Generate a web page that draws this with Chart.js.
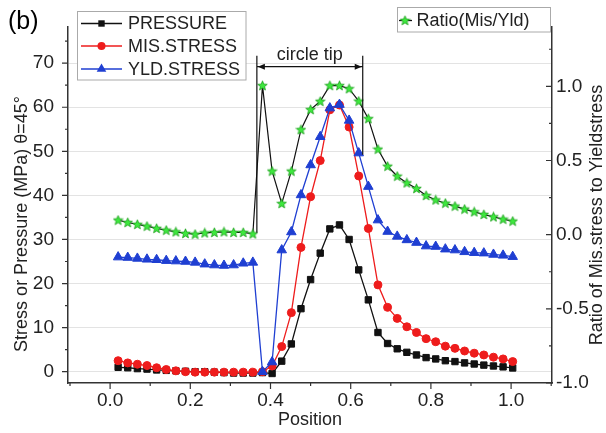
<!DOCTYPE html>
<html>
<head>
<meta charset="utf-8">
<script src="https://cdn.jsdelivr.net/npm/chart.js@4.4.1/dist/chart.umd.min.js"></script>
<style>
    body { margin: 0; background: #fff; }
    #wrap { width: 606px; height: 433px; }
</style>
</head>
<body>
<div id="wrap"><canvas id="stressChart" width="606" height="433"></canvas></div>
<script>
// position along the tip (x)
let position = [
    0.020, 0.044, 0.068, 0.092, 0.116, 0.140, 0.164, 0.188, 0.212, 0.236,
    0.260, 0.284, 0.308, 0.332, 0.356, 0.380, 0.404, 0.428, 0.452, 0.476,
    0.500, 0.524, 0.548, 0.572, 0.596, 0.620, 0.644, 0.668, 0.692, 0.716,
    0.740, 0.764, 0.788, 0.812, 0.836, 0.860, 0.884, 0.908, 0.932, 0.956,
    0.980, 1.004
];

let pressure = [
    1.0, 0.9, 0.7, 0.6, 0.4, 0.3, 0.2, 0.1, 0.0, 0.0,
    -0.1, -0.2, -0.3, -0.3, -0.3, -0.2, -0.4, 2.4, 6.3, 14.3,
    20.9, 26.9, 32.4, 33.3, 30.0, 23.1, 16.3, 8.9, 6.4, 5.2,
    4.4, 3.8, 3.2, 2.9, 2.5, 2.3, 2.0, 1.75, 1.5, 1.3,
    1.1, 0.85
];

let misStress = [
    2.5, 2.0, 1.7, 1.4, 0.9, 0.5, 0.2, 0.0, -0.1, -0.1,
    -0.1, -0.1, -0.1, -0.1, -0.1, 0.0, 1.3, 5.7, 13.4, 28.2,
    39.7, 47.9, 59.4, 60.5, 55.5, 44.4, 32.5, 19.7, 14.6, 12.1,
    10.2, 8.9, 7.5, 6.8, 5.8, 5.3, 4.7, 4.2, 3.8, 3.3,
    2.9, 2.3
];

let yldStress = [
    26.0, 25.9, 25.7, 25.5, 25.4, 25.2, 25.1, 25.0, 24.8, 24.4,
    24.2, 24.1, 24.2, 24.6, 24.8, 0.0, 2.2, 27.6, 31.7, 40.1,
    46.9, 53.3, 59.8, 60.6, 57.0, 49.6, 42.0, 34.4, 31.8, 30.7,
    29.9, 29.3, 28.5, 28.4, 27.8, 27.6, 27.2, 27.0, 26.9, 26.6,
    26.4, 26.1
];

let ratio = [
    0.098, 0.082, 0.069, 0.057, 0.042, 0.030, 0.019, 0.008, 0.003, 0.012,
    0.015, 0.019, 0.015, 0.015, 0.005, 1.005, 0.428, 0.210, 0.428, 0.708,
    0.843, 0.899, 1.005, 1.005, 0.984, 0.900, 0.782, 0.576, 0.461, 0.394,
    0.349, 0.311, 0.264, 0.234, 0.212, 0.192, 0.172, 0.154, 0.136, 0.120,
    0.104, 0.091
];

let xTicks = [0.0, 0.2, 0.4, 0.6, 0.8, 1.0];
let xMinor = [-0.1, 0.1, 0.3, 0.5, 0.7, 0.9, 1.1];
let leftTicks = [0, 10, 20, 30, 40, 50, 60, 70];
let leftMinor = [5, 15, 25, 35, 45, 55, 65, 75];
let rightTicks = [-1.0, -0.5, 0.0, 0.5, 1.0];
let rightMinor = [-0.75, -0.25, 0.25, 0.75, 1.25];

let seriesNames = ['PRESSURE', 'MIS.STRESS', 'YLD.STRESS', 'Ratio(Mis/Yld)'];
let xTitle = 'Position';
let leftTitle = 'Stress or Pressure (MPa) θ=45°';
let rightTitle = 'Ratio of Mis.stress to Yieldstress';
let panelLabel = '(b)';
let tipLabel = 'circle tip';
let tipRange = [0.366, 0.630];

const FONT = '"Liberation Sans", Arial, Helvetica, sans-serif';
const AXIS = '#333';
const TEXT = '#222';
const BLACK = '#111';
const RED = '#ee1c1c';
const BLUE = '#1f3fd2';

Chart.defaults.font.family = FONT;

function pairUp(xs, ys) {
    return xs.map((x, i) => ({ x: x, y: ys[i] }));
}

// 5-point star used as marker for the ratio series
function makeStar() {
    let c = document.createElement('canvas');
    c.width = 11;
    c.height = 11;
    let g = c.getContext('2d');
    g.beginPath();
    for (let i = 0; i < 10; i++) {
        let r = i % 2 ? 2.2 : 5.0;
        let a = -Math.PI / 2 + i * Math.PI / 5;
        g.lineTo(5.5 + r * Math.cos(a), 5.8 + r * Math.sin(a));
    }
    g.closePath();
    g.fillStyle = '#3ee83e';
    g.fill();
    g.strokeStyle = '#1c9e1c';
    g.lineWidth = 0.8;
    g.stroke();
    return c;
}
let star = makeStar();

function legendMarker(ctx, kind, x, y, color) {
    ctx.fillStyle = color;
    ctx.beginPath();
    if (kind == 'rect') {
        ctx.rect(x - 3.2, y - 3.2, 6.4, 6.4);
    } else if (kind == 'circle') {
        ctx.arc(x, y, 4, 0, Math.PI * 2);
    } else if (kind == 'triangle') {
        ctx.moveTo(x, y - 5.5);
        ctx.lineTo(x + 4.8, y + 2.75);
        ctx.lineTo(x - 4.8, y + 2.75);
        ctx.closePath();
    }
    ctx.fill();
}

const decorations = {
    id: 'decorations',
    afterDraw(chart) {
        let ctx = chart.ctx;
        let area = chart.chartArea;
        let xs = chart.scales.x, ys = chart.scales.y, rs = chart.scales.y1;

        ctx.save();
        ctx.strokeStyle = AXIS;
        ctx.lineWidth = 1.2;

        // tick marks
        ctx.beginPath();
        xTicks.forEach(v => { let p = xs.getPixelForValue(v); ctx.moveTo(p, area.bottom); ctx.lineTo(p, area.bottom + 6); });
        xMinor.forEach(v => { let p = xs.getPixelForValue(v); ctx.moveTo(p, area.bottom); ctx.lineTo(p, area.bottom + 3); });
        leftTicks.forEach(v => { let p = ys.getPixelForValue(v); ctx.moveTo(area.left, p); ctx.lineTo(area.left - 6, p); });
        leftMinor.forEach(v => { let p = ys.getPixelForValue(v); ctx.moveTo(area.left, p); ctx.lineTo(area.left - 3, p); });
        rightTicks.forEach(v => { let p = rs.getPixelForValue(v); ctx.moveTo(area.right, p); ctx.lineTo(area.right - 6, p); });
        rightMinor.forEach(v => { let p = rs.getPixelForValue(v); ctx.moveTo(area.right, p); ctx.lineTo(area.right - 3, p); });
        ctx.stroke();

        // axis titles
        ctx.fillStyle = TEXT;
        ctx.font = '18px ' + FONT;
        ctx.textAlign = 'center';
        ctx.textBaseline = 'middle';
        ctx.fillText(xTitle, (area.left + area.right) / 2, 420);
        ctx.save();
        ctx.translate(22, 224);
        ctx.rotate(-Math.PI / 2);
        ctx.fillText(leftTitle, 0, 0);
        ctx.restore();
        ctx.save();
        ctx.translate(597, 215);
        ctx.rotate(-Math.PI / 2);
        ctx.fillText(rightTitle, 0, 0);
        ctx.restore();

        // panel label
        ctx.font = '25px ' + FONT;
        ctx.textAlign = 'left';
        ctx.fillStyle = '#000';
        ctx.fillText(panelLabel, 8, 22);

        // circle tip bracket
        let x1 = xs.getPixelForValue(tipRange[0]);
        let x2 = xs.getPixelForValue(tipRange[1]);
        let yTop = ys.getPixelForValue(71.7);
        let yArrow = ys.getPixelForValue(69.2);
        ctx.strokeStyle = BLACK;
        ctx.lineWidth = 1.2;
        ctx.beginPath();
        ctx.moveTo(x1, yTop); ctx.lineTo(x1, ys.getPixelForValue(31.5));
        ctx.moveTo(x2, yTop); ctx.lineTo(x2, ys.getPixelForValue(49.2));
        ctx.moveTo(x1, yArrow); ctx.lineTo(x2, yArrow);
        ctx.stroke();
        ctx.fillStyle = BLACK;
        ctx.beginPath();
        ctx.moveTo(x1 + 1, yArrow); ctx.lineTo(x1 + 8, yArrow - 3); ctx.lineTo(x1 + 8, yArrow + 3); ctx.closePath();
        ctx.moveTo(x2 - 1, yArrow); ctx.lineTo(x2 - 8, yArrow - 3); ctx.lineTo(x2 - 8, yArrow + 3); ctx.closePath();
        ctx.fill();
        ctx.font = '18px ' + FONT;
        ctx.textAlign = 'center';
        ctx.fillStyle = TEXT;
        ctx.fillText(tipLabel, (x1 + x2) / 2, yArrow - 12);

        // legend 1 (left axis series)
        ctx.fillStyle = '#fff';
        ctx.fillRect(77.5, 11.5, 168.5, 68.5);
        ctx.strokeStyle = '#aaa';
        ctx.lineWidth = 1;
        ctx.strokeRect(77.5, 11.5, 168.5, 68.5);
        let rows = [
            { name: seriesNames[0], color: BLACK, kind: 'rect', y: 23.5 },
            { name: seriesNames[1], color: RED, kind: 'circle', y: 46 },
            { name: seriesNames[2], color: BLUE, kind: 'triangle', y: 69 }
        ];
        rows.forEach(r => {
            ctx.strokeStyle = r.color;
            ctx.lineWidth = 1.3;
            ctx.beginPath();
            ctx.moveTo(81, r.y); ctx.lineTo(122, r.y);
            ctx.stroke();
            legendMarker(ctx, r.kind, 101.5, r.y, r.color);
            ctx.fillStyle = TEXT;
            ctx.textAlign = 'left';
            ctx.font = '18px ' + FONT;
            ctx.fillText(r.name, 128, r.y + 1);
        });

        // legend 2 (right axis series)
        ctx.fillStyle = '#fff';
        ctx.fillRect(397.5, 7.5, 153, 24.5);
        ctx.strokeStyle = '#aaa';
        ctx.lineWidth = 1;
        ctx.strokeRect(397.5, 7.5, 153, 24.5);
        ctx.strokeStyle = BLACK;
        ctx.lineWidth = 1.3;
        ctx.beginPath();
        ctx.moveTo(399, 20.5); ctx.lineTo(412, 20.5);
        ctx.stroke();
        ctx.drawImage(star, 405 - 5.5, 20.5 - 5.5);
        ctx.fillStyle = TEXT;
        ctx.fillText(seriesNames[3], 416.5, 21);

        ctx.restore();
    }
};

let ctx = document.getElementById('stressChart').getContext('2d');

new Chart(ctx, {
    type: 'line',
    data: {
        datasets: [{
            label: seriesNames[0],
            data: pairUp(position, pressure),
            yAxisID: 'y',
            borderColor: BLACK,
            backgroundColor: BLACK,
            borderWidth: 1.3,
            pointStyle: 'rect',
            pointRadius: 4.5,
            pointBorderWidth: 1,
            order: 2
        }, {
            label: seriesNames[1],
            data: pairUp(position, misStress),
            yAxisID: 'y',
            borderColor: RED,
            backgroundColor: RED,
            borderWidth: 1.3,
            pointStyle: 'circle',
            pointRadius: 4,
            pointBorderWidth: 1,
            order: 1
        }, {
            label: seriesNames[2],
            data: pairUp(position, yldStress),
            yAxisID: 'y',
            borderColor: BLUE,
            backgroundColor: BLUE,
            borderWidth: 1.3,
            pointStyle: 'triangle',
            pointRadius: 5.5,
            pointBorderWidth: 1,
            order: 0
        }, {
            label: seriesNames[3],
            data: pairUp(position, ratio),
            yAxisID: 'y1',
            borderColor: BLACK,
            backgroundColor: '#3ee83e',
            borderWidth: 1.2,
            pointStyle: star,
            pointRadius: 5,
            order: 3
        }]
    },
    options: {
        responsive: false,
        animation: false,
        events: [],
        layout: { padding: { top: 27, left: 0, right: 0, bottom: 0 } },
        plugins: {
            legend: { display: false },
            tooltip: { enabled: false }
        },
        scales: {
            x: {
                type: 'linear',
                min: -0.105,
                max: 1.102,
                afterBuildTicks: s => { s.ticks = xTicks.map(v => ({ value: v })); },
                afterFit: s => { s.height = 50; },
                ticks: {
                    callback: v => v.toFixed(1),
                    font: { size: 19 },
                    color: TEXT,
                    padding: 6,
                    maxRotation: 0,
                    autoSkip: false
                },
                grid: { display: false, drawTicks: false },
                border: { color: AXIS, width: 1.5 }
            },
            y: {
                position: 'left',
                min: -2.56,
                max: 78.2,
                afterBuildTicks: s => { s.ticks = leftTicks.map(v => ({ value: v })); },
                afterFit: s => { s.width = 68; },
                ticks: {
                    font: { size: 19 },
                    color: TEXT,
                    padding: 14,
                    autoSkip: false
                },
                grid: { color: '#e3e3e3', lineWidth: 1, drawTicks: false },
                border: { color: AXIS, width: 1.5 }
            },
            y1: {
                position: 'right',
                min: -1.0,
                max: 1.4,
                afterBuildTicks: s => { s.ticks = rightTicks.map(v => ({ value: v })); },
                afterFit: s => { s.width = 54; },
                ticks: {
                    callback: v => v.toFixed(1),
                    font: { size: 19 },
                    color: TEXT,
                    padding: 4,
                    autoSkip: false
                },
                grid: { display: false, drawOnChartArea: false, drawTicks: false },
                border: { color: AXIS, width: 1.5 }
            }
        }
    },
    plugins: [decorations]
});
</script>
</body>
</html>
